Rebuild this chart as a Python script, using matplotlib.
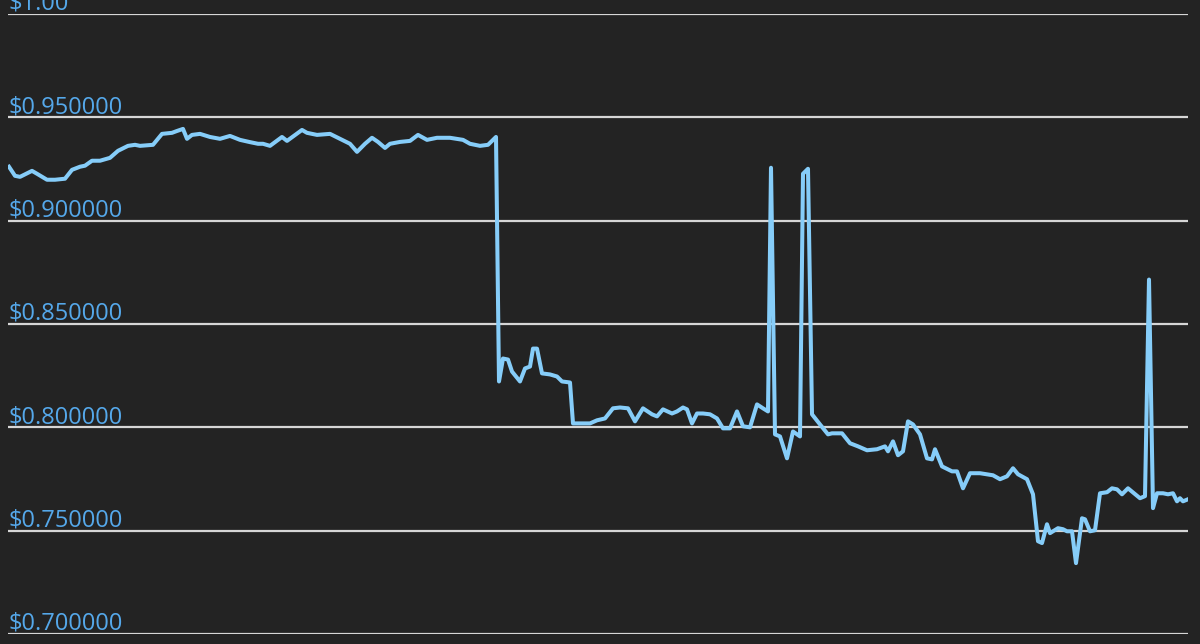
import matplotlib
matplotlib.use("Agg")
import matplotlib.pyplot as plt

# sample position (left to right) and price
t = [9, 15, 20, 32, 37, 47, 55, 65, 72, 80, 85, 92, 100, 110, 118, 128, 135, 140, 153,
     162, 172, 177, 183, 187, 192, 200, 210, 220, 230, 240, 250, 258, 263, 270, 282, 287,
     302, 307, 317, 330, 342, 350, 357, 365, 372, 378, 385, 390, 400, 410, 418, 427, 437,
     450, 463, 470, 480, 488, 496, 499, 503, 508, 512, 520, 525, 530, 533, 537, 542, 550,
     557, 562, 570, 573, 590, 597, 605, 613, 620, 628, 635, 643, 652, 657, 663, 672, 677,
     683, 687, 692, 697, 703, 710, 717, 723, 730, 737, 743, 750, 757, 763, 768, 771, 775,
     780, 787, 793, 800, 803, 808, 812, 820, 828, 832, 842, 850, 858, 867, 877, 885, 888,
     893, 898, 903, 908, 913, 920, 927, 932, 935, 942, 952, 957, 963, 970, 980, 993, 1000,
     1007, 1013, 1018, 1027, 1033, 1038, 1042, 1047, 1050, 1058, 1063, 1067, 1072, 1076,
     1082, 1085, 1090, 1095, 1100, 1107, 1112, 1117, 1122, 1128, 1140, 1145, 1149, 1153,
     1157, 1163, 1168, 1173, 1177, 1180, 1183, 1188]
price = [0.9261, 0.9217, 0.9212, 0.9241, 0.9227, 0.9198, 0.9198, 0.9203, 0.9246, 0.9261,
         0.9266, 0.9290, 0.9290, 0.9304, 0.9338, 0.9362, 0.9367, 0.9362, 0.9367, 0.9420,
         0.9425, 0.9434, 0.9444, 0.9396, 0.9415, 0.9420, 0.9405, 0.9396, 0.9410, 0.9391,
         0.9380, 0.9372, 0.9372, 0.9362, 0.9405, 0.9386, 0.9439, 0.9425, 0.9415, 0.9420,
         0.9391, 0.9372, 0.9333, 0.9372, 0.9401, 0.9381, 0.9352, 0.9372, 0.9381, 0.9386,
         0.9415, 0.9391, 0.9401, 0.9401, 0.9391, 0.9372, 0.9362, 0.9367, 0.9405, 0.8222,
         0.8333, 0.8328, 0.8270, 0.8222, 0.8285, 0.8294, 0.8381, 0.8381, 0.8261, 0.8256,
         0.8246, 0.8222, 0.8217, 0.8019, 0.8019, 0.8034, 0.8043, 0.8092, 0.8096, 0.8092,
         0.8029, 0.8092, 0.8063, 0.8053, 0.8087, 0.8067, 0.8077, 0.8096, 0.8087, 0.8019,
         0.8067, 0.8067, 0.8063, 0.8043, 0.7995, 0.7995, 0.8077, 0.8005, 0.8000, 0.8111,
         0.8092, 0.8077, 0.9256, 0.7966, 0.7956, 0.7850, 0.7980, 0.7956, 0.9227, 0.9251,
         0.8063, 0.8014, 0.7966, 0.7971, 0.7971, 0.7923, 0.7908, 0.7889, 0.7894, 0.7908,
         0.7884, 0.7932, 0.7865, 0.7884, 0.8029, 0.8014, 0.7966, 0.7850, 0.7845, 0.7894,
         0.7811, 0.7787, 0.7787, 0.7705, 0.7778, 0.7778, 0.7768, 0.7749, 0.7763, 0.7802,
         0.7773, 0.7749, 0.7676, 0.7449, 0.7440, 0.7531, 0.7488, 0.7512, 0.7507, 0.7497,
         0.7497, 0.7343, 0.7560, 0.7555, 0.7497, 0.7502, 0.7681, 0.7686, 0.7705, 0.7700,
         0.7676, 0.7705, 0.7657, 0.7667, 0.8715, 0.7609, 0.7681, 0.7681, 0.7676, 0.7681,
         0.7642, 0.7657, 0.7642, 0.7652]

grid_values = [0.70, 0.75, 0.80, 0.85, 0.90, 0.95, 1.00]
grid_labels = ["$0.700000", "$0.750000", "$0.800000", "$0.850000",
               "$0.900000", "$0.950000", "$1.00"]

bg = "#232323"
fig = plt.figure(figsize=(12, 6.44), dpi=100, facecolor=bg)
ax = fig.add_axes([8 / 1200, 10 / 644, 1180 / 1200, 620 / 644])
ax.set_facecolor(bg)

for v, lab in zip(grid_values, grid_labels):
    ax.axhline(v, color="#d6d6d6", lw=1.6, zorder=1)
    ax.text(9, v + 0.002, lab, color="#55a8ea", fontsize=17,
            family=["Open Sans", "DejaVu Sans"], ha="left", va="baseline",
            clip_on=False, zorder=3)

ax.plot(t, price, color="#86cdf9", lw=2.9, solid_joinstyle="round", zorder=2)

ax.set_xlim(8, 1188)
ax.set_ylim(0.70, 1.00)
ax.axis("off")

fig.savefig("out.png", dpi=100, facecolor=bg)
